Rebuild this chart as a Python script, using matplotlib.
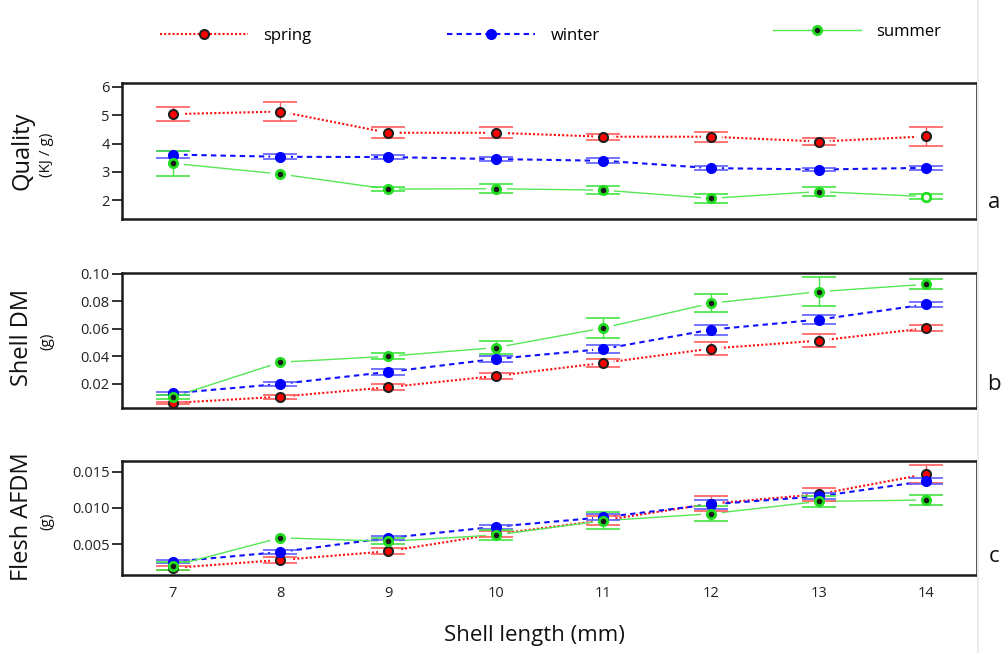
import numpy as np
import matplotlib
matplotlib.use("Agg")
import matplotlib.pyplot as plt
from matplotlib.lines import Line2D

nan = np.nan

# ---------------- data ----------------
shell_length = [7, 8, 9, 10, 11, 12, 13, 14]
season_names = ["spring", "winter", "summer"]

quality_spring = [5.04, 5.13, 4.38, 4.38, 4.24, 4.24, 4.07, 4.25]
quality_spring_err = [0.26, 0.33, 0.20, 0.19, 0.10, 0.17, 0.13, 0.35]
quality_winter = [3.61, 3.53, 3.52, 3.45, 3.39, 3.13, 3.08, 3.14]
quality_winter_err = [0.13, 0.09, 0.08, 0.08, 0.09, 0.08, 0.06, 0.08]
quality_summer = [3.30, 2.92, 2.39, 2.40, 2.35, 2.06, 2.30, 2.12]
quality_summer_err = [0.45, nan, 0.06, 0.16, 0.13, 0.17, 0.15, 0.09]

shelldm_spring = [0.0060, 0.0105, 0.0174, 0.0256, 0.0351, 0.0455, 0.0513, 0.0603]
shelldm_spring_err = [0.0010, 0.0015, 0.0022, 0.0023, 0.0030, 0.0047, 0.0045, 0.0021]
shelldm_winter = [0.0130, 0.0198, 0.0285, 0.0380, 0.0452, 0.0593, 0.0666, 0.0777]
shelldm_winter_err = [0.0010, 0.0015, 0.0020, 0.0022, 0.0030, 0.0037, 0.0033, 0.0020]
shelldm_summer = [0.0103, 0.0356, 0.0399, 0.0462, 0.0605, 0.0785, 0.0869, 0.0923]
shelldm_summer_err = [0.0015, nan, 0.0022, 0.0047, 0.0070, 0.0066, 0.0105, 0.0036]

afdm_spring = [0.00174, 0.00284, 0.00404, 0.0064, 0.0083, 0.0106, 0.0119, 0.01468]
afdm_spring_err = [0.0003, 0.0004, 0.0004, 0.0004, 0.0006, 0.0010, 0.0009, 0.0012]
afdm_winter = [0.0026, 0.00394, 0.00587, 0.00742, 0.00872, 0.0105, 0.0116, 0.01372]
afdm_winter_err = [0.0002, 0.0003, 0.0003, 0.0003, 0.0004, 0.0006, 0.0004, 0.0004]
afdm_summer = [0.0020, 0.0059, 0.0054, 0.00628, 0.00825, 0.00921, 0.0109, 0.0111]
afdm_summer_err = [0.0006, nan, 0.0004, 0.0007, 0.0012, 0.0010, 0.0008, 0.0007]

quality_ticks = [2, 3, 4, 5, 6]
shelldm_ticks = [0.02, 0.04, 0.06, 0.08, 0.10]
afdm_ticks = [0.005, 0.010, 0.015]
quality_open_point = 7  # index of open (hollow) summer marker in the Quality panel

# ---------------- style ----------------
plt.rcParams['font.family'] = ['Open Sans', 'DejaVu Sans']
W, H = 1008, 653
fig = plt.figure(figsize=(W / 100, H / 100), dpi=100)

styles = {
    "spring": dict(color="#ff1010", ls=(0, (1, 1)), lw=1.5, mfc="#ff0000", mec="#202020",
                   ecolor="#ff5c5c", ms=6.5, mew=1.5),
    "winter": dict(color="#1010ff", ls=(0, (2.6, 2)), lw=1.5, mfc="#0000ff", mec="#0000ff",
                   ecolor="#5c5cff", ms=7, mew=1.0),
    "summer": dict(color="#55e855", ls="-", lw=1.0, mfc="#1a1a1a", mec="#22dd22",
                   ecolor="#44e444", ms=6, mew=2.0),
}


def fig_rect(left, top, right, bottom):
    return [left / W, 1 - bottom / H, (right - left) / W, (bottom - top) / H]


ax_a = fig.add_axes(fig_rect(122, 83, 977, 219))
ax_b = fig.add_axes(fig_rect(122, 272.7, 977, 408))
ax_c = fig.add_axes(fig_rect(122, 461.3, 977, 575.3))

panels = [
    (ax_a, [(quality_spring, quality_spring_err), (quality_winter, quality_winter_err),
            (quality_summer, quality_summer_err)], (1.33, 6.14), quality_ticks, "%d"),
    (ax_b, [(shelldm_spring, shelldm_spring_err), (shelldm_winter, shelldm_winter_err),
            (shelldm_summer, shelldm_summer_err)], (0.0023, 0.1007), shelldm_ticks, "%.2f"),
    (ax_c, [(afdm_spring, afdm_spring_err), (afdm_winter, afdm_winter_err),
            (afdm_summer, afdm_summer_err)], (0.00073, 0.01643), afdm_ticks, "%.3f"),
]

for ax, series, ylim, yticks, fmt in panels:
    for (vals, errs), name in zip(series, season_names):
        s = styles[name]
        ax.plot(shell_length, vals, color=s["color"], ls=s["ls"], lw=s["lw"], zorder=1)
    for (vals, errs), name in zip(series, season_names):
        ax.plot(shell_length, vals, ls="none", marker="o", ms=15, mfc="white", mec="none",
                zorder=2)
    for (vals, errs), name in zip(series, season_names):
        s = styles[name]
        ax.errorbar(shell_length, vals, yerr=errs, fmt="none", ecolor=s["ecolor"],
                    elinewidth=1.0, capsize=12, capthick=1.2, zorder=3)
    for k, ((vals, errs), name) in enumerate(zip(series, season_names)):
        s = styles[name]
        ax.plot(shell_length, vals, ls="none", marker="o", ms=s["ms"], mfc=s["mfc"],
                mec=s["mec"], mew=s["mew"], zorder=4 + k)
    ax.set_xlim(6.53, 14.47)
    ax.set_ylim(*ylim)
    ax.set_yticks(yticks)
    ax.set_yticklabels([fmt % t for t in yticks])
    ax.set_xticks(shell_length)
    ax.tick_params(axis="y", direction="out", length=7, width=1.3, labelsize=10.5,
                   colors="#222222", pad=2)
    ax.tick_params(axis="x", length=0, labelsize=10.5, colors="#222222", pad=8)
    for sp in ax.spines.values():
        sp.set_linewidth(1.8)
        sp.set_color("#1a1a1a")

# hollow summer point in Quality panel
ax_a.plot([shell_length[quality_open_point]], [quality_summer[quality_open_point]], ls="none",
          marker="o", ms=6, mfc="white", mec="#22dd22", mew=1.8, zorder=8)

ax_a.set_xticklabels([])
ax_b.set_xticklabels([])
ax_c.set_xticklabels([str(v) for v in shell_length])

# y labels
ylabels = [("Quality", "(KJ / g)", 151), ("Shell DM", "(g)", 337), ("Flesh AFDM", "(g)", 517)]
for main, unit, yc in ylabels:
    fig.text(22 / W, 1 - yc / H, main, rotation=90, ha="center", va="center", fontsize=17,
             color="#111111")
    fig.text(47 / W, 1 - (yc + 4) / H, unit, rotation=90, ha="center", va="center",
             fontsize=11, color="#111111")

# panel letters
for letter, yc in [("a", 203), ("b", 385), ("c", 557)]:
    fig.text(994 / W, 1 - yc / H, letter, ha="center", va="center", fontsize=16, color="#111111")

fig.text(534 / W, 1 - 635 / H, "Shell length (mm)", ha="center", va="center", fontsize=16,
         color="#111111")

# legend entries
legend_pos = {"spring": (160, 36), "winter": (447, 36), "summer": (773, 32)}
for name in season_names:
    s = styles[name]
    h = Line2D([], [], color=s["color"], ls=s["ls"], lw=s["lw"], marker="o", ms=s["ms"],
               mfc=s["mfc"], mec=s["mec"], mew=s["mew"])
    x0, y0 = legend_pos[name]
    fig.legend([h], [name], loc="center left", bbox_to_anchor=(x0 / W, 1 - y0 / H),
               frameon=False, borderpad=0, borderaxespad=0, handlelength=5.3,
               handletextpad=0.9, numpoints=1, fontsize=12)

fig.add_artist(Line2D([978 / W, 978 / W], [0, 1], color="#ececec", lw=1.5,
                      transform=fig.transFigure))

fig.savefig("out.png", dpi=100)
